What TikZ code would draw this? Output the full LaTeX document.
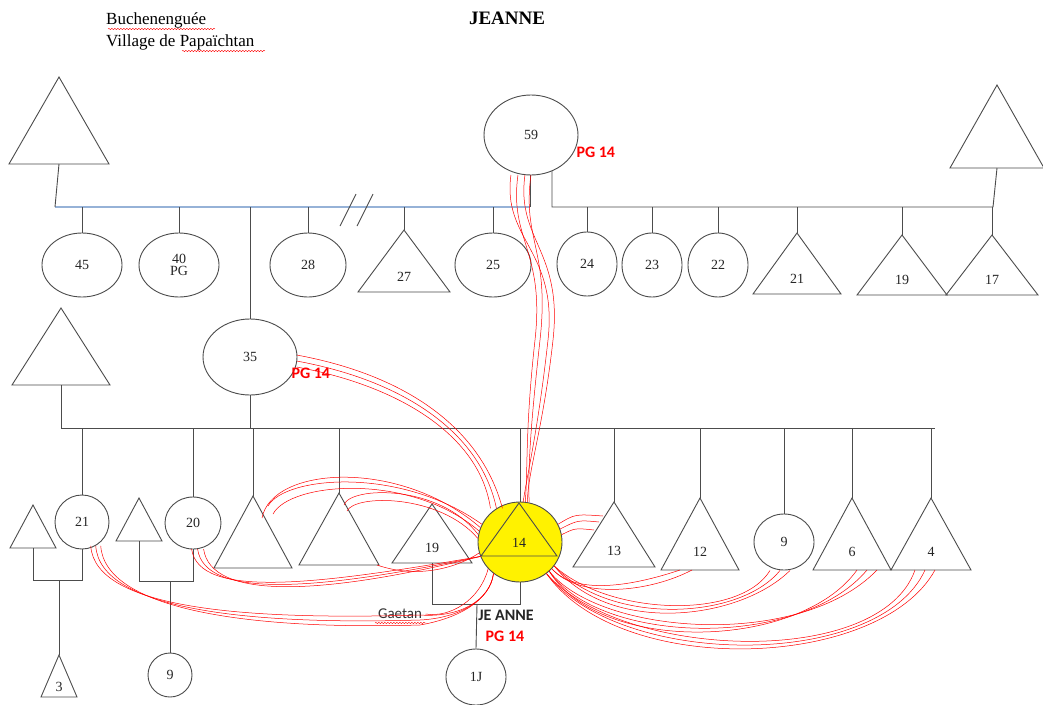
\documentclass[tikz,border=0pt]{standalone}
\usepackage{fontspec}
\setmainfont{Liberation Serif}
\newfontfamily\calibri{Carlito}
\usetikzlibrary{shapes.geometric,decorations.pathmorphing}
\definecolor{barblue}{RGB}{150,178,215}

% triangle: name, apex x, apex y, half base, height, label
\newcommand{\kintri}[6]{%
  \draw[kin] (#2,#3) coordinate (#1) -- ++(-#4,#5) -- ++(2*#4,0) -- cycle;
  \path (#2,#3) ++(0,#5) coordinate (#1b);
  \path (#2,#3) ++(0,0.75*#5) node[num] (#1t) {#6};}

\begin{document}
\begin{tikzpicture}[x=1pt,y=-1pt,
    kin/.style={draw=black!70,line width=0.9pt},
    fem/.style={kin,ellipse,inner sep=0pt},
    num/.style={font=\fontsize{14}{15}\selectfont,text=black!85},
    tie/.style={red,line width=0.5pt},
    bluebar/.style={draw=barblue,line width=1.3pt},
    redpg/.style={text=red,font=\calibri\bfseries\fontsize{16}{18}\selectfont},
    squiggle/.style={red,line width=0.4pt,decorate,decoration={snake,segment length=3pt,amplitude=0.7pt}}]
  \path[fill=white] (0,0) rectangle (1043,704);
  \useasboundingbox (0,0) rectangle (1043,704);

  % titles
  \node[anchor=west,inner sep=0pt,font=\fontsize{17}{19}\selectfont] (place) at (106,20) {Buchenenguée};
  \node[anchor=west,inner sep=0pt,font=\fontsize{17}{19}\selectfont] (village) at (106,42) {Village de Papaïchtan};
  \node[font=\bfseries\fontsize{19}{21}\selectfont] (title) at (507,18) {JEANNE};
  \draw[squiggle] (108,29) -- (215,29);
  \draw[squiggle] (182,51) -- (265,51);

  % first generation
  \kintri{gl}{59}{77}{50}{87}{}
  \kintri{gr}{997}{85}{47}{83}{}
  \node[fem,minimum width=94pt,minimum height=80pt,num] (m59) at (531,135) {59};
  \node[redpg,anchor=west] (pg59) at (573,152) {PG 14};

  \coordinate (b1w) at (55,207);
  \coordinate (b1e) at (530,207);
  \coordinate (b2w) at (552,207);
  \coordinate (b2e) at (993,207);
  \draw[bluebar] (b1w) -- (b1e);
  \draw[kin] (glb) -- (b1w);
  \draw[kin] (m59.south -| b1e) -- (b1e);
  \draw[kin] (552,171) -- (b2w) -- (b2e) -- (grb);

  % children of 59
  \node[fem,minimum width=80pt,minimum height=64pt,num] (c45) at (82,265) {45};
  \node[fem,minimum width=80pt,minimum height=64pt,num,align=center] (c40) at (179,265) {40\\[-3pt]PG};
  \node[fem,minimum width=76pt,minimum height=64pt,num] (c28) at (308,265) {28};
  \kintri{t27}{404}{230}{46}{62}{27}
  \node[fem,minimum width=76pt,minimum height=64pt,num] (c25) at (493,265) {25};
  \node[fem,minimum width=60pt,minimum height=64pt,num] (c24) at (587,264) {24};
  \node[fem,minimum width=60pt,minimum height=64pt,num] (c23) at (652,265) {23};
  \node[fem,minimum width=60pt,minimum height=64pt,num] (c22) at (718,265) {22};
  \kintri{t21}{797}{233}{44}{61}{21}
  \kintri{t19}{902}{235}{45}{60}{19}
  \kintri{t17}{992}{235}{46}{60}{17}
  \foreach \n in {c45,c40,c28,c25}
    \draw[kin] (\n.north) -- (\n.north |- b1w);
  \draw[kin] (t27) -- (t27 |- b1w);
  \foreach \n in {c24,c23,c22}
    \draw[kin] (\n.north) -- (\n.north |- b2w);
  \foreach \n in {t21,t19,t17}
    \draw[kin] (\n) -- (\n |- b2w);
  \draw[kin] (340,226) -- (356,194);
  \draw[kin] (357,226) -- (373,194);

  % second generation
  \kintri{gm}{61}{308}{49}{77}{}
  \node[fem,minimum width=94pt,minimum height=76pt,num] (m35) at (250,357) {35};
  \node[redpg,anchor=west] (pg35) at (288,373) {PG 14};
  \draw[kin] (m35.north) -- (m35.north |- b1w);
  \coordinate (b3w) at (61,428);
  \coordinate (b3e) at (935,428);
  \draw[kin] (gmb) -- (b3w) -- (b3e);
  \draw[kin] (m35.south) -- (m35.south |- b3w);

  % children of 35
  \node[fem,minimum width=54pt,minimum height=54pt,num] (c21) at (82,522) {21};
  \node[fem,minimum width=56pt,minimum height=52pt,num] (c20) at (193,523) {20};
  \kintri{u1}{253}{496}{39}{72}{}
  \kintri{u2}{339}{493}{40}{72}{}
  \kintri{t19b}{432}{504}{40}{59}{19}
  \node[fem,fill=yellow,minimum width=84pt,minimum height=80pt] (ego) at (520,542) {};
  \kintri{egot}{519}{503}{38}{53}{14}
  \kintri{t13}{614}{502}{41}{65}{13}
  \kintri{t12}{700}{498}{39}{72}{12}
  \node[fem,minimum width=60pt,minimum height=56pt,num] (c9) at (784,542) {9};
  \kintri{t6}{852}{498}{39}{72}{6}
  \kintri{t4}{931}{498}{40}{72}{4}
  \foreach \n in {c21,c20,c9}
    \draw[kin] (\n.north) -- (\n.north |- b3w);
  \foreach \n in {u1,u2,t13,t12,t6,t4}
    \draw[kin] (\n) -- (\n |- b3w);
  \draw[kin] (ego.north) -- (ego.north |- b3w);

  % third generation
  \kintri{s1}{33}{505}{23}{43}{}
  \kintri{s2}{139}{498}{23}{43}{}
  \kintri{t3}{59}{655}{18}{42}{3}
  \node[fem,minimum width=44pt,minimum height=44pt,num] (c9b) at (170,675) {9};
  \node[fem,minimum width=60pt,minimum height=56pt,num] (c1J) at (476,677) {1J};
  \draw[kin] (s1b) -- ++(0,32) -| (c21.south);
  \draw[kin] (t3) -- (59,580);
  \draw[kin] (s2b) -- ++(0,40) -| (c20.south);
  \draw[kin] (c9b.north) -- (170,581);
  \draw[kin] (t19bb) -- ++(0,41) -| (ego.south);
  \draw[kin] (c1J.north) -- (477,604);

  \node[font=\calibri\fontsize{15}{17}\selectfont,text=black!80] (gaetan) at (400,614) {Gaetan};
  \draw[squiggle] (375,623) -- (426,623);
  \node[font=\calibri\bfseries\fontsize{16}{18}\selectfont,text=black!85] (jeanne) at (506,615) {JE ANNE};
  \node[redpg] (pg14) at (505,636) {PG 14};

  % ties of JEANNE
  \foreach \o/\p in {-13/6,-6/-7,1/11,7/-2}
    \draw[tie] ([xshift=\o]m59.-100) .. controls (515+\o,240) and (552+\p,250) .. (542+\p,340)
      .. controls (532+\p,430) and (528,470) .. ([xshift=0.3*\o]ego.80);
  \foreach \o in {-6,0,6}
    \draw[tie] ([yshift=\o]m35.-5) .. controls (400,380-\o) and (480,430-\o) .. ([xshift=\o]ego.125);
  \draw[tie] ([shift={(9,22)}]u1) .. controls (272,466) and (400,458) .. (ego.160);
  \draw[tie] ([shift={(15,10)}]u1) .. controls (285,476) and (400,466) .. (ego.155);
  \draw[tie] ([shift={(20,18)}]u1) .. controls (290,482) and (410,472) .. (ego.165);
  \draw[tie] ([shift={(5,12)}]u2) .. controls (350,486) and (440,484) .. (ego.170);
  \draw[tie] ([shift={(8,18)}]u2) .. controls (355,494) and (440,494) .. (ego.175);
  \foreach \o in {-6,0,6}
    \draw[tie] ([xshift=\o]c20.-80) .. controls (205+\o,600) and (320,590+\o) .. (ego.200);
  \draw[tie] (u2b) ++(38,0) .. controls (420,580) and (460,566) .. (ego.195);
  \foreach \o in {-5,0,5}
    \draw[tie] ([xshift=\o]c21.-60) .. controls (100+\o,610) and (250,625+\o) .. (420,620+\o)
      .. controls (460,618) and (490,600) .. (ego.-130);
  \draw[tie] (ego.-140) .. controls (480,600) and (450,618) .. (gaetan.east);
  \draw[tie] (ego.25) .. controls (575,514) .. (603,516);
  \draw[tie] (ego.18) .. controls (578,520) .. (599,522);
  \draw[tie] (ego.10) .. controls (575,528) .. (594,530);
  \foreach \o in {-20,-8}
    \draw[tie] (ego.-40) .. controls (580,600) and (650,600+\o) .. ([xshift=\o]t12b);
  \foreach \o in {-14,-4,6}
    \draw[tie] (ego.-35) .. controls (610,630+\o) and (740,620) .. ([xshift=\o]c9.south);
  \foreach \o in {5,15,25}
    \draw[tie] (ego.-45) .. controls (600,660-\o) and (800,650) .. ([xshift=\o]t6b);
  \foreach \o in {-16,-6,4}
    \draw[tie] (ego.-50) .. controls (620,675+\o) and (880,670) .. ([xshift=\o]t4b);
\end{tikzpicture}
\end{document}
